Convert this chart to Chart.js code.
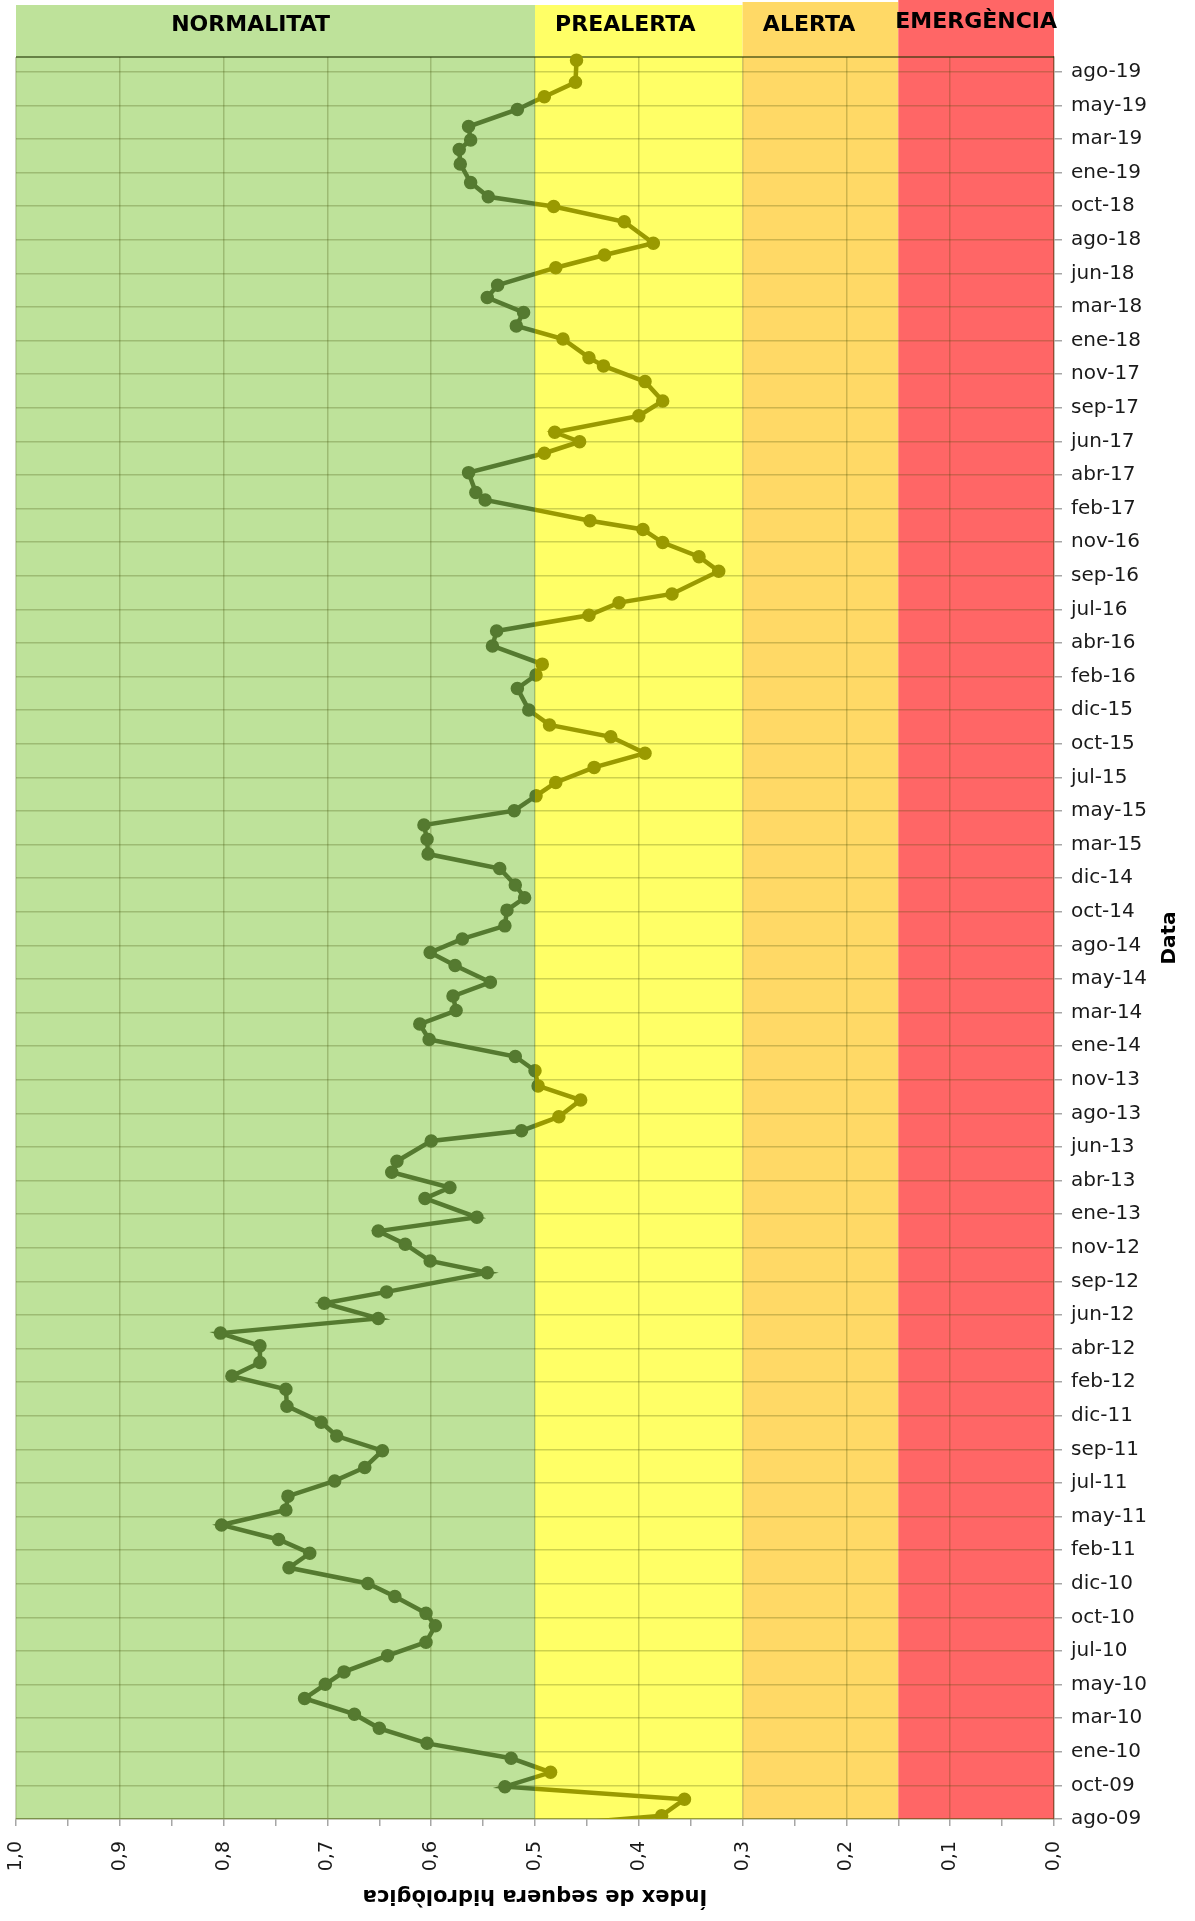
<!DOCTYPE html>
<html>
<head>
<meta charset="utf-8">
<script src="https://cdn.jsdelivr.net/npm/chart.js@4.4.1/dist/chart.umd.min.js"></script>
<style>
  html, body { margin: 0; padding: 0; background: #fff; }
</style>
</head>
<body>
<canvas id="myChart" width="1195" height="1921"></canvas>
<script>
// dates of each measurement, as decimal years (first one falls before the axis start)
var anys = [2009.562, 2009.639, 2009.733, 2009.805, 2009.887, 2009.968, 2010.053, 2010.139, 2010.220, 2010.310,
  2010.391, 2010.462, 2010.555, 2010.632, 2010.726, 2010.797, 2010.893, 2010.968, 2011.058, 2011.141,
  2011.220, 2011.303, 2011.389, 2011.468, 2011.555, 2011.632, 2011.728, 2011.812, 2011.891, 2011.983,
  2012.080, 2012.155, 2012.233, 2012.328, 2012.401, 2012.485, 2012.572, 2012.637, 2012.747, 2012.814,
  2012.910, 2012.985, 2013.064, 2013.172, 2013.234, 2013.322, 2013.385, 2013.501, 2013.559, 2013.639,
  2013.735, 2013.816, 2013.903, 2013.984, 2014.082, 2014.170, 2014.247, 2014.330, 2014.409, 2014.505,
  2014.580, 2014.657, 2014.732, 2014.822, 2014.893, 2014.966, 2015.060, 2015.143, 2015.228, 2015.309,
  2015.391, 2015.476, 2015.553, 2015.639, 2015.720, 2015.814, 2015.882, 2015.968, 2016.091, 2016.168,
  2016.230, 2016.334, 2016.420, 2016.510, 2016.582, 2016.632, 2016.762, 2016.845, 2016.926, 2017.001,
  2017.051, 2017.170, 2017.212, 2017.326, 2017.437, 2017.503, 2017.557, 2017.651, 2017.736, 2017.847,
  2017.937, 2017.984, 2018.091, 2018.166, 2018.243, 2018.328, 2018.399, 2018.499, 2018.572, 2018.639,
  2018.762, 2018.849, 2018.905, 2018.986, 2019.093, 2019.176, 2019.230, 2019.307, 2019.405, 2019.478,
  2019.560, 2019.687];

// índex de sequera hidrològica
var index = [0.530, 0.378, 0.356, 0.529, 0.485, 0.523, 0.604, 0.650, 0.674, 0.722,
  0.702, 0.684, 0.642, 0.605, 0.596, 0.605, 0.635, 0.661, 0.737, 0.717,
  0.747, 0.802, 0.740, 0.738, 0.693, 0.664, 0.647, 0.691, 0.706, 0.739,
  0.740, 0.792, 0.765, 0.765, 0.803, 0.651, 0.703, 0.643, 0.546, 0.601,
  0.625, 0.651, 0.556, 0.606, 0.582, 0.638, 0.633, 0.600, 0.513, 0.477,
  0.456, 0.497, 0.500, 0.519, 0.602, 0.611, 0.576, 0.579, 0.543, 0.577,
  0.601, 0.570, 0.529, 0.527, 0.510, 0.519, 0.534, 0.603, 0.604, 0.607,
  0.520, 0.499, 0.480, 0.443, 0.394, 0.427, 0.486, 0.506, 0.517, 0.499,
  0.493, 0.541, 0.537, 0.448, 0.419, 0.368, 0.323, 0.342, 0.377, 0.396,
  0.447, 0.548, 0.557, 0.564, 0.491, 0.457, 0.481, 0.400, 0.377, 0.394,
  0.434, 0.448, 0.473, 0.518, 0.511, 0.546, 0.536, 0.480, 0.433, 0.386,
  0.414, 0.482, 0.545, 0.562, 0.572, 0.573, 0.562, 0.564, 0.517, 0.491,
  0.461, 0.460];

// tick labels of the date axis, evenly spaced from the axis start
var fechas = ['ago-09', 'oct-09', 'ene-10', 'mar-10', 'may-10', 'jul-10', 'oct-10', 'dic-10', 'feb-11', 'may-11',
  'jul-11', 'sep-11', 'dic-11', 'feb-12', 'abr-12', 'jun-12', 'sep-12', 'nov-12', 'ene-13', 'abr-13',
  'jun-13', 'ago-13', 'nov-13', 'ene-14', 'mar-14', 'may-14', 'ago-14', 'oct-14', 'dic-14', 'mar-15',
  'may-15', 'jul-15', 'oct-15', 'dic-15', 'feb-16', 'abr-16', 'jul-16', 'sep-16', 'nov-16', 'feb-17',
  'abr-17', 'jun-17', 'sep-17', 'nov-17', 'ene-18', 'mar-18', 'jun-18', 'ago-18', 'oct-18', 'ene-19',
  'mar-19', 'may-19', 'ago-19'];
var anyInici = 2009.62;
var anyFinal = 2019.705;
var pasEtiqueta = 10 / 52;

// drought stages
var zonaNoms = ['NORMALITAT', 'PREALERTA', 'ALERTA', 'EMERGÈNCIA'];
var zonaDesde = [1.0, 0.5, 0.3, 0.15];
var zonaFins = [0.5, 0.3, 0.15, 0.0];

var colorsZona = ['#BEE29A', '#FFFF66', '#FFD966', '#FF6666'];
var altZona = [52, 52, 55, 57];
var textZonaX = [0.774, 0.413, 0.236, 0.075];
var textZonaY = [31, 31, 31, 28];
var gridCol = 'rgba(60,70,0,0.25)';
var fontFam = '"DejaVu Sans", sans-serif';

var punts = anys.map(function(a, i) { return { x: index[i], y: a }; });

var zonesPlugin = {
    id: 'zones',
    beforeDraw: function(chart) {
        var ctx = chart.ctx, a = chart.chartArea, sx = chart.scales.x;
        ctx.save();
        for (var i = 0; i < zonaNoms.length; i++) {
            var x1 = sx.getPixelForValue(zonaDesde[i]), x2 = sx.getPixelForValue(zonaFins[i]);
            ctx.fillStyle = colorsZona[i];
            ctx.fillRect(x1, a.top - altZona[i], x2 - x1, a.bottom - a.top + altZona[i]);
        }
        ctx.fillStyle = '#000';
        ctx.font = 'bold 22px ' + fontFam;
        ctx.textAlign = 'center';
        ctx.textBaseline = 'alphabetic';
        for (var j = 0; j < zonaNoms.length; j++) {
            ctx.fillText(zonaNoms[j], sx.getPixelForValue(textZonaX[j]), textZonaY[j]);
        }
        ctx.restore();
    },
    beforeDatasetsDraw: function(chart) {
        var ctx = chart.ctx, a = chart.chartArea;
        ctx.save();
        ctx.strokeStyle = 'rgba(30,50,0,0.55)';
        ctx.lineWidth = 2;
        ctx.beginPath();
        ctx.moveTo(a.left, a.top);
        ctx.lineTo(a.right, a.top);
        ctx.stroke();
        ctx.restore();
    },
    // green part of the line on the left of 0,5, olive part on the right
    beforeDatasetDraw: function(chart, args) {
        var ctx = chart.ctx, a = chart.chartArea;
        var mid = chart.scales.x.getPixelForValue(0.5);
        ctx.save();
        ctx.beginPath();
        if (args.index === 0) {
            ctx.rect(a.left - 10, a.top - 10, mid - a.left + 10, a.bottom - a.top + 10);
        } else {
            ctx.rect(mid, a.top - 10, a.right - mid + 10, a.bottom - a.top + 10);
        }
        ctx.clip();
    },
    afterDatasetDraw: function(chart) {
        chart.ctx.restore();
    },
    afterDraw: function(chart) {
        var ctx = chart.ctx, a = chart.chartArea;
        ctx.save();
        ctx.fillStyle = '#000';
        ctx.textAlign = 'center';
        ctx.textBaseline = 'middle';
        ctx.font = 'bold 21px ' + fontFam;
        ctx.translate((a.left + a.right) / 2, 1895);
        ctx.rotate(Math.PI);
        ctx.fillText('Índex de sequera hidrològica', 0, 0);
        ctx.restore();

        ctx.save();
        ctx.fillStyle = '#000';
        ctx.textAlign = 'center';
        ctx.textBaseline = 'middle';
        ctx.font = 'bold 20px ' + fontFam;
        ctx.translate(1170, (a.top + a.bottom) / 2);
        ctx.rotate(-Math.PI / 2);
        ctx.fillText('Data', 0, 0);
        ctx.restore();
    }
};

function esMenor(v) {
    return Math.round(v * 20) % 2 === 1;
}

Graph = {
    populate: function() {
        var ctx = document.getElementById('myChart').getContext('2d');
        var linia = {
            data: punts,
            showLine: true,
            borderWidth: 4.5,
            pointRadius: 6,
            pointBorderWidth: 1.5,
            pointHoverRadius: 6,
            tension: 0,
            clip: false
        };
        new Chart(ctx, {
            type: 'scatter',
            data: {
                datasets: [
                    Object.assign({}, linia, { label: 'Normalitat', borderColor: '#557A30', backgroundColor: '#557A30', pointBorderColor: '#557A30' }),
                    Object.assign({}, linia, { label: 'Prealerta', borderColor: '#9A9A00', backgroundColor: '#9A9A00', pointBorderColor: '#9A9A00' })
                ]
            },
            options: {
                responsive: false,
                devicePixelRatio: 1,
                animation: false,
                events: [],
                layout: { padding: { top: 57, left: 16, right: 0, bottom: 0 } },
                plugins: {
                    legend: { display: false },
                    tooltip: { enabled: false }
                },
                scales: {
                    x: {
                        type: 'linear',
                        position: 'bottom',
                        min: 0,
                        max: 1,
                        reverse: true,
                        afterFit: function(s) { s.height = 102; },
                        grid: {
                            color: function(c) { return (c.tick && esMenor(c.tick.value)) ? 'rgba(0,0,0,0)' : gridCol; },
                            lineWidth: 1.5,
                            tickColor: '#a6a6a6',
                            tickLength: 7
                        },
                        border: { display: true, color: 'rgba(60,70,0,0.35)', width: 1.5 },
                        ticks: {
                            stepSize: 0.05,
                            autoSkip: false,
                            maxRotation: 90,
                            minRotation: 90,
                            padding: 15,
                            color: '#1a1a1a',
                            font: { family: fontFam, size: 19 },
                            callback: function(v) {
                                return esMenor(v) ? '' : v.toFixed(1).replace('.', ',');
                            }
                        }
                    },
                    y: {
                        type: 'linear',
                        position: 'right',
                        min: anyInici,
                        max: anyFinal,
                        afterFit: function(s) { s.width = 141; },
                        afterBuildTicks: function(s) {
                            s.ticks = fechas.map(function(f, i) { return { value: anyInici + i * pasEtiqueta }; });
                        },
                        grid: {
                            color: gridCol,
                            lineWidth: 1.5,
                            tickColor: '#a6a6a6',
                            tickLength: 8
                        },
                        border: { display: true, color: 'rgba(60,30,0,0.35)', width: 1.5 },
                        ticks: {
                            autoSkip: false,
                            padding: 9,
                            color: '#1a1a1a',
                            font: { family: fontFam, size: 20 },
                            callback: function(v, i) { return fechas[i]; }
                        }
                    }
                }
            },
            plugins: [zonesPlugin]
        });
    }
};

document.addEventListener('DOMContentLoaded', Graph.populate, false);
</script>
</body>
</html>
